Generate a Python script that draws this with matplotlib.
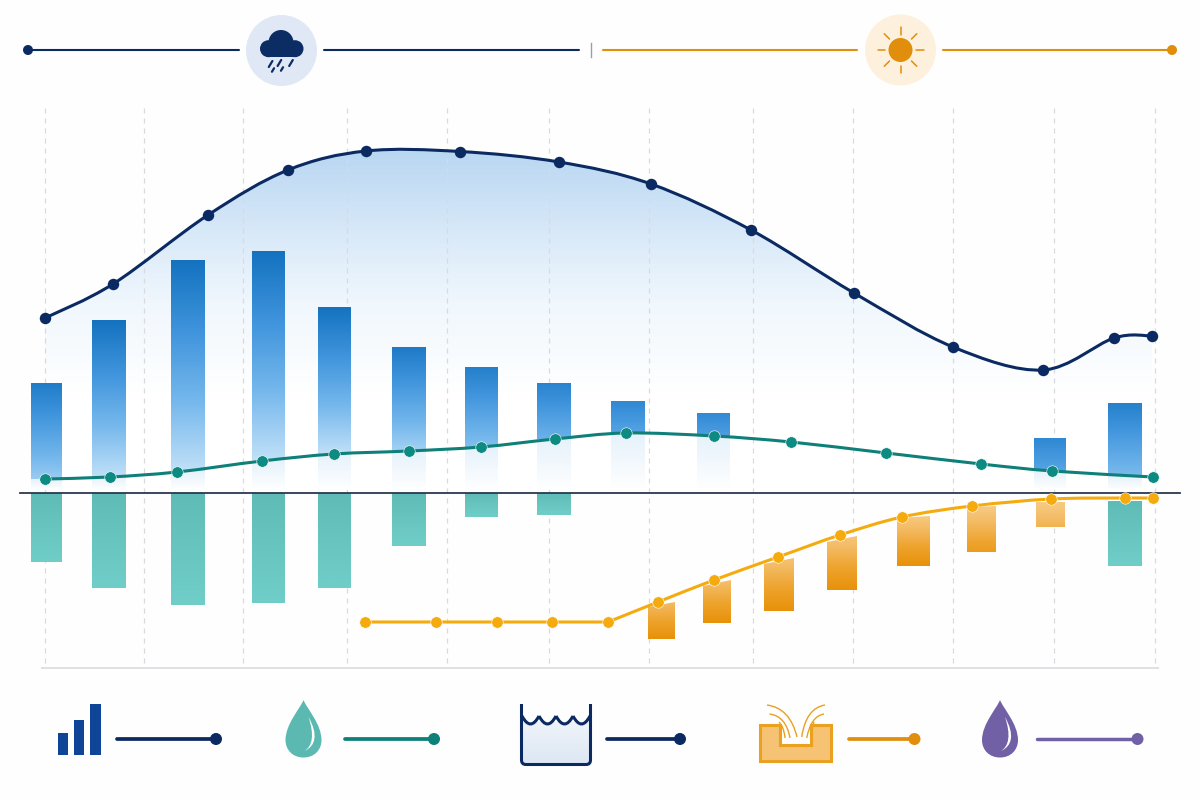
import numpy as np
import matplotlib
matplotlib.use("Agg")
import matplotlib.pyplot as plt
from matplotlib.colors import LinearSegmentedColormap
from matplotlib.patches import Circle, Ellipse, PathPatch, Polygon, Rectangle
from matplotlib.path import Path

curve_x = [45, 113, 208, 288, 366, 460, 559, 651, 751, 854, 953, 1043, 1114, 1152]
curve_y = [175, 209, 278, 323, 342, 341.5, 331, 309, 263, 200, 146, 123, 155, 157]

teal_x = [45, 110, 177, 262, 334, 409, 481, 555, 626, 714, 791, 886, 981, 1052, 1153]
teal_y = [14, 16, 21, 32, 39, 42, 46, 54, 60, 57, 51, 40, 29, 22, 16]

yellow_x = [365, 436, 497, 552, 608, 658, 714, 778, 840, 902, 972, 1051, 1125, 1153]
yellow_y = [-129, -129, -129, -129, -129, -109, -87, -64, -42, -24, -13, -6, -5, -5]

rain_left = [31, 92, 171, 252, 318, 392, 465, 537, 611, 697, 1034, 1108]
rain_right = [62, 126, 205, 285, 351, 426, 498, 571, 645, 730, 1066, 1142]
rain_top = [110, 173, 233, 242, 186, 146, 126, 110, 92, 80, 55, 90]
rain_cut = [14, 16, 22, 33, 39, 42, 46, 54, 60, 57, 22, 17]

loss_left = [31, 92, 171, 252, 318, 392, 465, 537, 1108]
loss_right = [62, 126, 205, 285, 351, 426, 498, 571, 1142]
loss_top = [0, 0, 0, 0, 0, 0, 0, 0, -8]
loss_bottom = [-69, -95, -112, -110, -95, -53, -24, -22, -73]

deficit_left = [648, 703, 764, 827, 897, 967, 1036]
deficit_right = [675, 731, 794, 857, 930, 996, 1065]
deficit_top_l = [-114, -93, -71, -49, -25, -14, -9]
deficit_top_r = [-109, -87, -65, -43, -23, -13, -9]
deficit_bottom = [-146, -130, -118, -97, -73, -59, -34]

grid_x = [45, 144, 243, 347, 447, 549, 649, 753, 853, 953, 1054, 1155]

NAVY = "#0b2a62"
TEAL = "#0e8079"
TEAL_DOT = "#0d8a82"
YELLOW = "#f5ab0e"
ORANGE = "#e08e0b"
PURPLE = "#7160a6"


# Smooth path through the points (Catmull-Rom written as Bezier segments)
# flat stretches stay flat, the turn out of them is one sided
def smooth_path(xs, ys):
    pts = np.column_stack([xs, ys]).astype(float)
    verts = [pts[0]]
    codes = [Path.MOVETO]
    for i in range(len(pts) - 1):
        a, b = pts[i], pts[i + 1]
        prev_p = pts[max(i - 1, 0)]
        next_p = pts[min(i + 2, len(pts) - 1)]
        if a[1] == b[1]:
            c1, c2 = a + (b - a) / 3, b - (b - a) / 3
        else:
            c1 = a + (b - a) / 3 if prev_p[1] == a[1] and i > 0 else a + (b - prev_p) / 6
            c2 = b - (next_p - a) / 6
        verts += [c1, c2, b]
        codes += [Path.CURVE4, Path.CURVE4, Path.CURVE4]
    return Path(np.array(verts), codes)


def gradient_bar(ax, left, right, bottom, top, cmap, v0=0.0, v1=1.0, zorder=3):
    grad = np.linspace(v0, v1, 128).reshape(-1, 1)
    return ax.imshow(grad, extent=(left, right, bottom, top), origin="lower", cmap=cmap,
                     vmin=0, vmax=1, aspect="auto", zorder=zorder, interpolation="bilinear")


fig = plt.figure(figsize=(12, 8), dpi=100, facecolor="#fefefe")

# Chart axes, one unit is one pixel and the zero line sits at 0
ax = fig.add_axes([0, 0, 1, 1])
ax.axis("off")

rain_cmap = LinearSegmentedColormap.from_list("rain", ["#c0e0f8", "#74b7ec", "#3f94dc", "#1472bf"])
ghost_cmap = LinearSegmentedColormap.from_list("ghost", ["#ffffff", "#e6f2fb"])
loss_cmap = LinearSegmentedColormap.from_list("loss", ["#70cec9", "#5fbbb5"])
deficit_cmap = LinearSegmentedColormap.from_list("deficit", ["#f9d393", "#f4bd68", "#eea42e", "#e8910a"])
peak = max(curve_y)
area_cmap = LinearSegmentedColormap.from_list(
    "area", [(0, "#ffffff"), (100 / peak, "#ffffff"), (190 / peak, "#f0f7fd"), (250 / peak, "#dcebf9"), (1, "#b9d7f2")])

# Grid and bottom line
for gx in grid_x:
    ax.plot([gx, gx], [385, -175], color="#d8dadd", lw=0.9, ls=(0, (4, 4)), zorder=1)
ax.plot([42, 1158], [-175, -175], color="#dfe1e4", lw=1.4, zorder=1)

# Area below the navy curve, gradient runs from the top of the curve down
base = smooth_path(curve_x, curve_y)
area_path = Path(
    np.vstack([base.vertices, [curve_x[-1], 0], [curve_x[0], 0], [curve_x[0], curve_y[0]]]),
    list(base.codes) + [Path.LINETO, Path.LINETO, Path.CLOSEPOLY],
)
im = ax.imshow(np.linspace(0, 1, 256).reshape(-1, 1), extent=(curve_x[0], curve_x[-1], 0, peak),
               origin="lower", cmap=area_cmap, vmin=0, vmax=1, aspect="auto", zorder=0.5)
im.set_clip_path(PathPatch(area_path, transform=ax.transData))

# Rain bars, strong above the teal line and only a pale trace below it
for left, right, top, cut in zip(rain_left, rain_right, rain_top, rain_cut):
    length = top - cut
    fade = min(1.0, (length / 125) ** 0.8)
    v_top = 0.72 + 0.28 * min(1.0, length / 150)
    gradient_bar(ax, left, right, cut, top, rain_cmap, v_top - fade * v_top, v_top)
    gradient_bar(ax, left, right, 3, cut, ghost_cmap)

for left, right, top, bottom in zip(loss_left, loss_right, loss_top, loss_bottom):
    gradient_bar(ax, left, right, bottom, top, loss_cmap)

# Deficit bars have a slanted top edge along the yellow line
for left, right, top_l, top_r, bottom in zip(deficit_left, deficit_right, deficit_top_l, deficit_top_r, deficit_bottom):
    v_top = 0.1 - top_r / 109 * 0.25
    v_bottom = min(1.0, -bottom / 73)
    bar = gradient_bar(ax, left, right, bottom, top_r, deficit_cmap, v_bottom, v_top)
    bar.set_clip_path(Polygon([(left, bottom), (right, bottom), (right, top_r), (left, top_l)],
                              transform=ax.transData))

ax.plot([20, 1180], [0, 0], color="#2a3850", lw=1.3, zorder=5)

# Lines
for xs, ys, col, dot_col, edge in [(curve_x, curve_y, NAVY, NAVY, 0),
                                   (teal_x, teal_y, TEAL, TEAL_DOT, 0.4),
                                   (yellow_x, yellow_y, YELLOW, YELLOW, 0.4)]:
    ax.add_patch(PathPatch(smooth_path(xs, ys), fill=False, edgecolor=col, lw=2.2, zorder=6, capstyle="round"))
    ax.scatter(xs, ys, s=68, color=dot_col, zorder=7, edgecolors="#ffffff", linewidths=edge)

ax.set_xlim(0, 1200)
ax.set_ylim(-307, 493)

# Second axes in picture pixels for header and legend icons
deco = fig.add_axes([0, 0, 1, 1])
deco.axis("off")
deco.patch.set_alpha(0)


def seg(x0, y0, x1, y1, col, lw, z=3):
    deco.plot([x0, x1], [y0, y1], color=col, lw=lw, zorder=z, solid_capstyle="round")


def dot(x, y, r, col):
    deco.add_patch(Circle((x, y), r, color=col, zorder=4, lw=0))


def droplet(cx, top, bottom, half_w, col):
    # Droplet outline with a white crescent
    cy = top + 40
    k = 0.6 * half_w
    verts = [(cx, top),
             (cx - 3, top + 8), (cx - half_w, cy - 16), (cx - half_w, cy),
             (cx - half_w, cy + 10), (cx - k, bottom), (cx, bottom),
             (cx + k, bottom), (cx + half_w, cy + 10), (cx + half_w, cy),
             (cx + half_w, cy - 16), (cx + 3, top + 8), (cx, top)]
    deco.add_patch(PathPatch(Path(verts, [Path.MOVETO] + [Path.CURVE4] * 12), facecolor=col, edgecolor="none", zorder=3))
    hi = [(cx + 5, top + 17), (cx + 15, top + 35), (cx + 12, top + 46), (cx + 1, top + 51),
          (cx + 9, top + 46), (cx + 11, top + 35), (cx + 5, top + 17)]
    deco.add_patch(PathPatch(Path(hi, [Path.MOVETO] + [Path.CURVE4] * 6), facecolor="#ffffff", edgecolor="none", zorder=4))


# Header, rain side
dot(28, 50, 5, NAVY)
seg(30, 50, 239, 50, NAVY, 1.5)
seg(324, 50, 579, 50, NAVY, 1.5)
deco.add_patch(Ellipse((281.5, 50.5), 71, 71, color="#dfe8f4", lw=0, zorder=2))
cloud = "#0c2d63"
for cx, cy, r in [(281, 42.5, 12.5), (268.5, 48.7, 8.5), (295, 48.7, 8.5)]:
    deco.add_patch(Circle((cx, cy), r, color=cloud, lw=0, zorder=3))
deco.add_patch(Rectangle((268.5, 45), 26.5, 12.2, color=cloud, lw=0, zorder=3))
for x0, y0, h in [(270.6, 64, 6), (279.4, 63, 6), (291, 63, 6), (273, 70, 3.5), (282, 69, 3.5)]:
    seg(x0 + h * 0.3, y0 - h / 2, x0 - h * 0.3, y0 + h / 2, cloud, 1.6)

deco.plot([591, 591], [43, 57], color="#9a9ea6", lw=1.0, zorder=3)

# Header, sun side
seg(603, 50, 857, 50, ORANGE, 1.5)
seg(943, 50, 1170, 50, ORANGE, 1.5)
dot(1172, 50, 5, ORANGE)
deco.add_patch(Ellipse((900.5, 50), 71, 71, color="#fdf1de", lw=0, zorder=2))
deco.add_patch(Ellipse((900.5, 50), 24, 24, color=ORANGE, lw=0, zorder=3))
for ang in np.arange(0, 360, 45):
    ca, sa = np.cos(np.radians(ang)), np.sin(np.radians(ang))
    seg(900.5 + 15.5 * ca, 50 + 15.5 * sa, 900.5 + 23 * ca, 50 + 23 * sa, ORANGE, 1.1)

# Legend, bars icon
for x0, h in [(57.5, 22), (73.5, 35), (90, 50.5)]:
    deco.add_patch(Rectangle((x0, 754.5 - h), 10.5, h, color="#0e4596", lw=0, zorder=3))
seg(117, 739, 212, 739, NAVY, 2.7)
dot(216, 739, 6, NAVY)

# Legend, teal drop
droplet(303.5, 700, 757.5, 18, "#5cb9b1")
seg(345, 739, 430, 739, TEAL, 2.7)
dot(434, 739, 6, TEAL)

# Legend, tank with water
tank_cmap = LinearSegmentedColormap.from_list("tank", ["#eef3fa", "#dde7f3"])
deco.imshow(np.linspace(0, 1, 64).reshape(-1, 1), extent=(522, 590, 722, 764), cmap=tank_cmap,
            aspect="auto", zorder=2, origin="lower")
scallop_x = [522, 539, 556, 573, 590]
for x0, x1 in zip(scallop_x[:-1], scallop_x[1:]):
    arc = Path([(x0, 716), ((x0 + x1) / 2, 732), (x1, 716)], [Path.MOVETO, Path.CURVE3, Path.CURVE3])
    deco.add_patch(PathPatch(arc, fill=False, edgecolor=NAVY, lw=2.2, zorder=3))
    deco.add_patch(PathPatch(Path([(x0, 716), ((x0 + x1) / 2, 732), (x1, 716), (x0, 716)],
                                  [Path.MOVETO, Path.CURVE3, Path.CURVE3, Path.CLOSEPOLY]),
                             facecolor="#fefefe", edgecolor="none", zorder=2.5))
tank_verts = [(521.5, 704), (521.5, 760), (521.5, 764.5), (526, 764.5), (586, 764.5), (590.5, 764.5), (590.5, 760), (590.5, 704)]
tank_codes = [Path.MOVETO, Path.LINETO, Path.CURVE3, Path.CURVE3, Path.LINETO, Path.CURVE3, Path.CURVE3, Path.LINETO]
deco.add_patch(PathPatch(Path(tank_verts, tank_codes), fill=False, edgecolor=NAVY, lw=2.2, zorder=3))
seg(607, 739, 676, 739, NAVY, 2.7)
dot(680, 739, 6, NAVY)

# Legend, infiltration basin
basin = [(760, 725), (780, 725), (780, 745), (811, 745), (811, 725), (831, 725), (831, 760.5), (760, 760.5)]
deco.add_patch(Polygon(basin, closed=True, facecolor="#f6c274", edgecolor="#e9a11f", lw=2.2, zorder=3))
fountain = [((767, 705), (790, 708), (797, 737)), ((769.5, 714), (786, 716), (790, 738)),
            ((779, 722), (784, 727), (785, 738)),
            ((825, 705), (806, 708), (801.7, 737)), ((824, 714), (811, 716), (806.7, 738)),
            ((814, 722), (812, 727), (811, 738))]
for p0, p1, p2 in fountain:
    deco.add_patch(PathPatch(Path([p0, p1, p2], [Path.MOVETO, Path.CURVE3, Path.CURVE3]), fill=False,
                             edgecolor="#e9a11f", lw=1.0, zorder=4))
seg(849, 739, 909, 739, ORANGE, 2.7)
dot(914.5, 739, 6, ORANGE)

# Legend, purple drop
droplet(1000, 700, 757.5, 18, PURPLE)
seg(1037, 739, 1133, 739, PURPLE, 2.5)
dot(1137.5, 739, 6, PURPLE)

# imshow above resets the limits, so set them last
deco.set_xlim(0, 1200)
deco.set_ylim(800, 0)

fig.savefig("out.png", dpi=100, facecolor=fig.get_facecolor())
